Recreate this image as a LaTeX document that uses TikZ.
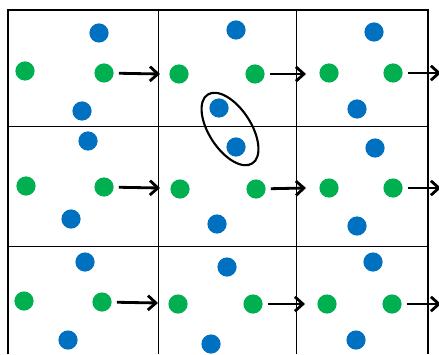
\documentclass[tikz,border=0pt]{standalone}
\usepackage{tikz}
\usetikzlibrary{arrows.meta}
\definecolor{dotblue}{HTML}{0070C0}
\definecolor{dotgreen}{HTML}{00B050}

\begin{document}
\begin{tikzpicture}[x=0.025cm, y=-0.025cm,
    bdot/.style={circle, fill=dotblue, minimum size=0.48cm, inner sep=0pt},
    gdot/.style={circle, fill=dotgreen, minimum size=0.48cm, inner sep=0pt, outer sep=0.13cm},
    >={Straight Barb[length=0.2cm, width=0.36cm]}, arr/.style={->, line width=2pt}]
    \useasboundingbox (0,0) rectangle (439,354);

    % grid
    \draw[line width=0.6pt] (158,10) -- (158,354) (296,10) -- (296,354);
    \draw[line width=0.6pt] (8,126) -- (428,126) (8,246) -- (428,246);
    \draw[line width=1.8pt] (8,354) -- (8,10) -- (428,10) -- (428,354);

    % first row
    \node[bdot] (b11a) at (99,33) {};  \node[bdot] (b11b) at (82,111) {};
    \node[gdot] (g11a) at (25,71) {};  \node[gdot] (g11b) at (104,73) {};
    \node[bdot] (b12a) at (236,30) {}; \node[bdot] (b12b) at (219,108) {};
    \node[gdot] (g12a) at (179,74) {}; \node[gdot] (g12b) at (255,74) {};
    \node[bdot] (b13a) at (374,32) {}; \node[bdot] (b13b) at (357,109) {};
    \node[gdot] (g13a) at (329,73) {}; \node[gdot] (g13b) at (393,73) {};

    % second row
    \node[bdot] (b21a) at (88,141) {};  \node[bdot] (b21b) at (71,219) {};
    \node[gdot] (g21a) at (26,186) {};  \node[gdot] (g21b) at (104,187) {};
    \node[bdot] (b22a) at (236,147) {}; \node[bdot] (b22b) at (217,224) {};
    \node[gdot] (g22a) at (180,189) {}; \node[gdot] (g22b) at (256,189) {};
    \node[bdot] (b23a) at (375,148) {}; \node[bdot] (b23b) at (357,226) {};
    \node[gdot] (g23a) at (329,188) {}; \node[gdot] (g23b) at (393,188) {};

    % third row
    \node[bdot] (b31a) at (85,262) {};  \node[bdot] (b31b) at (68,340) {};
    \node[gdot] (g31a) at (24,301) {};  \node[gdot] (g31b) at (102,302) {};
    \node[bdot] (b32a) at (227,267) {}; \node[bdot] (b32b) at (211,344) {};
    \node[gdot] (g32a) at (178,304) {}; \node[gdot] (g32b) at (253,304) {};
    \node[bdot] (b33a) at (373,262) {}; \node[bdot] (b33b) at (356,340) {};
    \node[gdot] (g33a) at (327,304) {}; \node[gdot] (g33b) at (392,304) {};

    % shift arrows
    \coordinate (t11) at (160,74);  \coordinate (t12) at (306,74);  \coordinate (t13) at (441,73);
    \coordinate (t21) at (160,188); \coordinate (t22) at (306,188); \coordinate (t23) at (441,188);
    \coordinate (t31) at (158,303); \coordinate (t32) at (305,304); \coordinate (t33) at (441,304);
    \draw[arr] (g11b) -- (t11); \draw[arr] (g12b) -- (t12); \draw[arr] (g13b) -- (t13);
    \draw[arr] (g21b) -- (t21); \draw[arr] (g22b) -- (t22); \draw[arr] (g23b) -- (t23);
    \draw[arr] (g31b) -- (t31); \draw[arr] (g32b) -- (t32); \draw[arr] (g33b) -- (t33);

    % pair
    \draw[line width=1.5pt, rotate around={-57:(230,129)}] (230,129) ellipse [x radius=41, y radius=21];
\end{tikzpicture}
\end{document}
